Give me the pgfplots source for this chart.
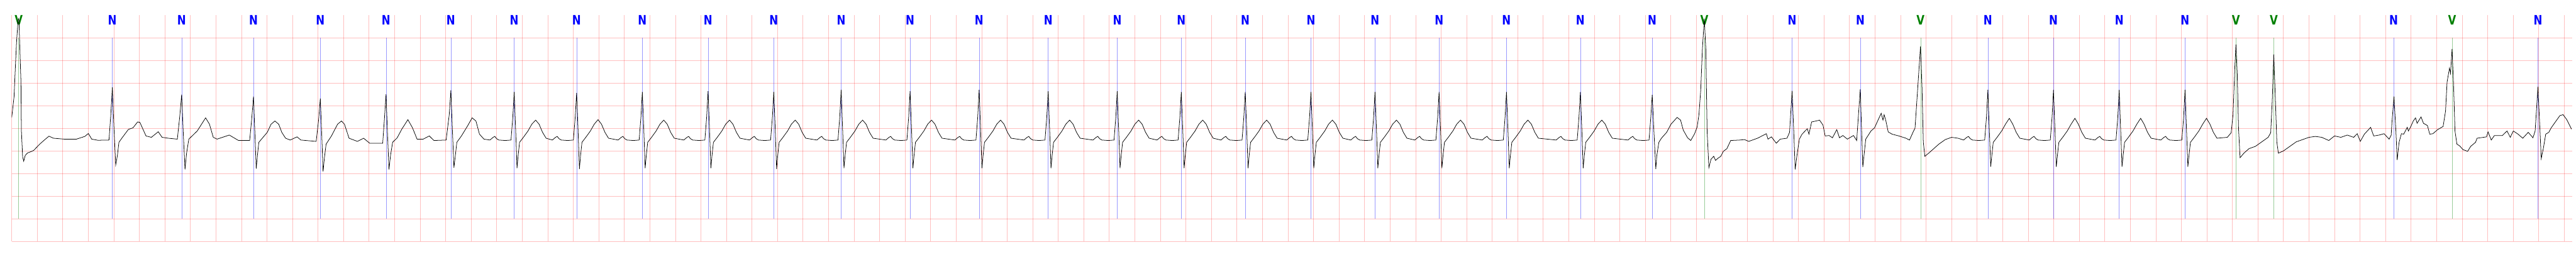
\documentclass[border=0pt]{standalone}
\usepackage{pgfplots}
\pgfplotsset{compat=1.18}
\usepackage{fontspec}
\newfontfamily\labfont{DejaVu Sans}
\definecolor{nlab}{RGB}{0,0,255}
\definecolor{vlab}{RGB}{0,128,0}
\begin{document}
\begin{tikzpicture}
\path[use as bounding box] (0,0) rectangle (1880.5pt,187.5pt);
\begin{axis}[
  at={(8.575pt,11.075pt)}, anchor=south west,
  scale only axis, width=1869.175pt, height=165.425pt,
  xmin=0, xmax=20.063, ymin=-2.5, ymax=2.5,
  xtick distance=0.2, ytick={-2.5,-2,...,2},
  grid=major, major grid style={red, opacity=0.25, line width=0.38pt},
  tick style={draw=none}, xticklabel=\empty, yticklabel=\empty,
  axis line style={draw=none},
]
% beat annotations
\pgfplotsinvokeforeach{0.7884,1.3313,1.8942,2.4178,2.9327,3.4408,3.937,4.426,4.941,5.456,5.971,6.499,7.039,7.580,8.121,8.662,9.164,9.665,10.180,10.682,11.184,11.712,12.291,12.854,13.950,14.484,15.484,15.998,16.513,17.029,18.663,19.794}{
  \addplot[nlab, opacity=0.4, line width=0.18pt] coordinates {(#1,-2) (#1,2)};
  \node[anchor=north, inner sep=0pt, text=nlab, xscale=0.8, font=\labfont\fontsize{9.5}{10}\selectfont\bfseries] at (axis cs:#1,2.5) {N};
}
\pgfplotsinvokeforeach{0.0542,13.262,14.956,17.428,17.724,19.121}{
  \addplot[vlab, opacity=0.4, line width=0.18pt] coordinates {(#1,-2) (#1,2)};
  \node[anchor=north, inner sep=0pt, text=vlab, xscale=0.8, font=\labfont\fontsize{9.5}{10}\selectfont\bfseries] at (axis cs:#1,2.5) {V};
}
% ECG trace (mV vs s)
\addplot[black, line width=0.35pt] coordinates {
(0,0.24)(0.0182,0.70)(0.0277,1.31)(0.0373,1.89)(0.0494,2.38)(0.0529,2.42)(0.0566,2.38)(0.0636,1.75)(0.0721,1.03)(0.0757,-0.06)(0.0853,-0.63)(0.0937,-0.727)(0.1057,-0.60)(0.1237,-0.545)(0.1476,-0.52)(0.1715,-0.49)(0.1954,-0.42)(0.2195,-0.35)(0.2555,-0.26)(0.2914,-0.175)(0.3271,-0.22)(0.4111,-0.24)(0.5069,-0.24)(0.5729,-0.18)(0.6003,-0.115)(0.6266,-0.24)(0.6746,-0.265)(0.7621,-0.26)(0.7760,0.3)(0.7884,0.906)(0.8010,0.0)(0.8147,-0.81)(0.8279,-0.6)(0.8399,-0.31)(0.8662,-0.205)(0.9142,-0.025)(0.9502,0.01)(0.9862,0.14)(1.0042,0.13)(1.028,-0.02)(1.052,-0.17)(1.094,-0.2)(1.148,-0.077)(1.178,-0.2)(1.2256,-0.22)(1.2975,-0.24)(1.3160,0.25)(1.3313,0.743)(1.3440,-0.1)(1.3576,-0.908)(1.3700,-0.55)(1.3874,-0.24)(1.4534,-0.06)(1.5191,0.23)(1.5492,0.09)(1.5790,-0.2)(1.609,-0.24)(1.7049,-0.15)(1.7767,-0.27)
(1.8642,-0.27)(1.8800,0.2)(1.8942,0.70)(1.9050,-0.1)(1.9157,-0.89)(1.9250,-0.6)(1.9361,-0.31)(1.966,-0.21)(2.0021,-0.09)(2.032,0.09)(2.062,0.16)(2.0917,0.09)(2.1159,-0.09)(2.1457,-0.22)(2.1817,-0.26)(2.2356,-0.19)(2.2656,-0.26)(2.3853,-0.29)(2.4050,0.2)(2.4178,0.66)(2.4290,-0.15)(2.4393,-0.955)(2.4500,-0.65)(2.4632,-0.35)(2.5050,-0.17)(2.5531,0.09)(2.5831,0.16)(2.6070,0.09)(2.6430,-0.22)(2.7087,-0.29)(2.7568,-0.22)(2.8046,-0.33)(2.9066,-0.33)(2.9200,0.2)(2.9327,0.75)(2.9440,-0.1)(2.9556,-0.908)(2.9680,-0.6)(2.9843,-0.31)(3.0203,-0.21)(3.0562,-0.02)(3.104,0.19)(3.1400,0.01)(3.1759,-0.24)(3.2239,-0.24)(3.2717,-0.17)(3.3077,-0.27)(3.4035,-0.26)(3.4280,0.3)(3.4408,0.84)(3.4530,-0.05)(3.4647,-0.87)(3.4760,-0.6)(3.4875,-0.31)(3.5235,-0.17)(3.5712,0.05)(3.6074,0.23)(3.6372,0.16)(3.6648,-0.13)(3.70,-0.24)
(3.747,-0.26)(3.772,-0.20)(3.785,-0.18)(3.799,-0.23)(3.817,-0.26)(3.867,-0.27)(3.912,-0.26)(3.926,0.25)(3.937,0.80)(3.948,0.0)(3.959,-0.88)(3.968,-0.6)(3.979,-0.31)(4.009,-0.2)(4.045,-0.06)(4.075,0.09)(4.105,0.18)(4.132,0.09)(4.159,-0.09)(4.187,-0.22)
(4.236,-0.26)(4.261,-0.20)(4.274,-0.18)(4.288,-0.23)(4.306,-0.26)(4.356,-0.27)(4.401,-0.26)(4.415,0.25)(4.426,0.78)(4.437,0.0)(4.448,-0.90)(4.457,-0.6)(4.468,-0.31)(4.498,-0.2)(4.534,-0.06)(4.564,0.09)(4.594,0.19)(4.621,0.09)(4.648,-0.09)(4.676,-0.22)
(4.751,-0.26)(4.776,-0.20)(4.789,-0.18)(4.803,-0.23)(4.821,-0.26)(4.871,-0.27)(4.916,-0.26)(4.930,0.25)(4.941,0.80)(4.952,0.0)(4.963,-0.88)(4.972,-0.6)(4.983,-0.31)(5.013,-0.2)(5.049,-0.06)(5.079,0.09)(5.109,0.18)(5.136,0.09)(5.163,-0.09)(5.191,-0.22)
(5.266,-0.26)(5.291,-0.20)(5.304,-0.18)(5.318,-0.23)(5.336,-0.26)(5.386,-0.27)(5.431,-0.26)(5.445,0.25)(5.456,0.82)(5.467,0.0)(5.478,-0.88)(5.487,-0.6)(5.498,-0.31)(5.528,-0.2)(5.564,-0.06)(5.594,0.09)(5.624,0.18)(5.651,0.09)(5.678,-0.09)(5.706,-0.22)
(5.781,-0.26)(5.806,-0.20)(5.819,-0.18)(5.833,-0.23)(5.851,-0.26)(5.901,-0.27)(5.946,-0.26)(5.960,0.25)(5.971,0.80)(5.982,0.0)(5.993,-0.90)(6.002,-0.6)(6.013,-0.31)(6.043,-0.2)(6.079,-0.06)(6.109,0.09)(6.139,0.18)(6.166,0.09)(6.193,-0.09)(6.221,-0.22)
(6.309,-0.26)(6.334,-0.20)(6.347,-0.18)(6.361,-0.23)(6.379,-0.26)(6.429,-0.27)(6.474,-0.26)(6.488,0.25)(6.499,0.85)(6.510,0.0)(6.521,-0.88)(6.530,-0.6)(6.541,-0.31)(6.571,-0.2)(6.607,-0.06)(6.637,0.09)(6.667,0.18)(6.694,0.09)(6.721,-0.09)(6.749,-0.22)
(6.849,-0.26)(6.874,-0.20)(6.887,-0.18)(6.901,-0.23)(6.919,-0.26)(6.969,-0.27)(7.014,-0.26)(7.028,0.25)(7.039,0.82)(7.050,0.0)(7.061,-0.88)(7.070,-0.6)(7.081,-0.31)(7.111,-0.2)(7.147,-0.06)(7.177,0.09)(7.207,0.18)(7.234,0.09)(7.261,-0.09)(7.289,-0.22)
(7.390,-0.26)(7.415,-0.20)(7.428,-0.18)(7.442,-0.23)(7.460,-0.26)(7.510,-0.27)(7.555,-0.26)(7.569,0.25)(7.580,0.85)(7.591,0.0)(7.602,-0.88)(7.611,-0.6)(7.622,-0.31)(7.652,-0.2)(7.688,-0.06)(7.718,0.09)(7.748,0.18)(7.775,0.09)(7.802,-0.09)(7.830,-0.22)
(7.931,-0.26)(7.956,-0.20)(7.969,-0.18)(7.983,-0.23)(8.001,-0.26)(8.051,-0.27)(8.096,-0.26)(8.110,0.25)(8.121,0.82)(8.132,0.0)(8.143,-0.88)(8.152,-0.6)(8.163,-0.31)(8.193,-0.2)(8.229,-0.06)(8.259,0.09)(8.289,0.18)(8.316,0.09)(8.343,-0.09)(8.371,-0.22)
(8.472,-0.26)(8.497,-0.20)(8.510,-0.18)(8.524,-0.23)(8.542,-0.26)(8.592,-0.27)(8.637,-0.26)(8.651,0.25)(8.662,0.82)(8.673,0.0)(8.684,-0.88)(8.693,-0.6)(8.704,-0.31)(8.734,-0.2)(8.770,-0.06)(8.800,0.09)(8.830,0.18)(8.857,0.09)(8.884,-0.09)(8.912,-0.22)
(8.974,-0.26)(8.999,-0.20)(9.012,-0.18)(9.026,-0.23)(9.044,-0.26)(9.094,-0.27)(9.139,-0.26)(9.153,0.25)(9.164,0.80)(9.175,0.0)(9.186,-0.88)(9.195,-0.6)(9.206,-0.31)(9.236,-0.2)(9.272,-0.06)(9.302,0.09)(9.332,0.18)(9.359,0.09)(9.386,-0.09)(9.414,-0.22)
(9.475,-0.26)(9.500,-0.20)(9.513,-0.18)(9.527,-0.23)(9.545,-0.26)(9.595,-0.27)(9.640,-0.26)(9.654,0.25)(9.665,0.80)(9.676,0.0)(9.687,-0.88)(9.696,-0.6)(9.707,-0.31)(9.737,-0.2)(9.773,-0.06)(9.803,0.09)(9.833,0.18)(9.860,0.09)(9.887,-0.09)(9.915,-0.22)
(9.990,-0.26)(10.015,-0.20)(10.028,-0.18)(10.042,-0.23)(10.060,-0.26)(10.110,-0.27)(10.155,-0.26)(10.169,0.25)(10.180,0.80)(10.191,0.0)(10.202,-0.88)(10.211,-0.6)(10.222,-0.31)(10.252,-0.2)(10.288,-0.06)(10.318,0.09)(10.348,0.18)(10.375,0.09)(10.402,-0.09)(10.430,-0.22)
(10.492,-0.26)(10.517,-0.20)(10.530,-0.18)(10.544,-0.23)(10.562,-0.26)(10.612,-0.27)(10.657,-0.26)(10.671,0.25)(10.682,0.80)(10.693,0.0)(10.704,-0.88)(10.713,-0.6)(10.724,-0.31)(10.754,-0.2)(10.790,-0.06)(10.820,0.09)(10.850,0.18)(10.877,0.09)(10.904,-0.09)(10.932,-0.22)
(10.994,-0.26)(11.019,-0.20)(11.032,-0.18)(11.046,-0.23)(11.064,-0.26)(11.114,-0.27)(11.159,-0.26)(11.173,0.25)(11.184,0.80)(11.195,0.0)(11.206,-0.88)(11.215,-0.6)(11.226,-0.31)(11.256,-0.2)(11.292,-0.06)(11.322,0.09)(11.352,0.18)(11.379,0.09)(11.406,-0.09)(11.434,-0.22)
(11.522,-0.26)(11.547,-0.20)(11.560,-0.18)(11.574,-0.23)(11.592,-0.26)(11.642,-0.27)(11.687,-0.26)(11.701,0.25)(11.712,0.80)(11.723,0.0)(11.734,-0.88)(11.743,-0.6)(11.754,-0.31)(11.784,-0.2)(11.820,-0.06)(11.850,0.09)(11.880,0.18)(11.907,0.09)(11.934,-0.09)(11.962,-0.22)
(12.101,-0.26)(12.126,-0.20)(12.139,-0.18)(12.153,-0.23)(12.171,-0.26)(12.221,-0.27)(12.266,-0.26)(12.280,0.25)(12.291,0.80)(12.302,0.0)(12.313,-0.88)(12.322,-0.6)(12.333,-0.31)(12.363,-0.2)(12.399,-0.06)(12.429,0.09)(12.459,0.18)(12.486,0.09)(12.513,-0.09)(12.541,-0.22)
(12.664,-0.26)(12.689,-0.20)(12.702,-0.18)(12.716,-0.23)(12.734,-0.26)(12.784,-0.27)(12.829,-0.26)(12.843,0.25)(12.854,0.74)(12.866,0.0)(12.882,-0.90)(12.890,-0.6)(12.906,-0.31)(12.926,-0.22)(12.967,-0.09)(13.001,0.09)(13.049,0.24)(13.076,0.18)(13.097,-0.04)(13.131,-0.21)(13.156,-0.27)(13.186,-0.12)(13.206,0.03)(13.220,0.30)(13.234,0.845)(13.247,1.75)(13.262,2.42)(13.274,1.75)(13.284,-0.06)(13.298,-0.87)(13.315,-0.68)(13.336,-0.62)(13.350,-0.71)(13.370,-0.66)(13.391,-0.62)(13.411,-0.51)(13.439,-0.45)(13.459,-0.33)(13.469,-0.27)(13.541,-0.26)(13.577,-0.25)(13.610,-0.29)(13.679,-0.22)(13.748,-0.12)(13.761,-0.24)(13.788,-0.19)(13.826,-0.33)(13.857,-0.24)(13.910,-0.22)(13.930,-0.09)(13.950,0.826)(13.962,0.0)(13.974,-0.908)(13.987,-0.62)(14.007,-0.24)(14.028,-0.13)(14.069,-0.01)(14.082,-0.13)(14.103,0.14)(14.137,0.16)(14.165,0.18)(14.192,0.07)(14.209,-0.17)(14.240,-0.16)(14.266,-0.21)(14.300,-0.03)(14.321,-0.21)(14.348,-0.16)(14.383,-0.24)(14.431,-0.16)(14.456,-0.27)(14.484,0.86)(14.494,0.0)(14.504,-0.855)(14.527,-0.24)(14.568,-0.06)(14.596,0.01)(14.620,0.16)(14.648,0.33)(14.662,0.18)(14.671,0.30)(14.685,0.16)(14.703,-0.08)(14.733,-0.13)(14.787,-0.17)(14.842,-0.22)(14.870,-0.26)(14.897,-0.09)(14.913,0.0)(14.935,0.92)(14.956,1.81)
(14.968,0.9)(14.978,-0.3)(14.99,-0.62)(15.02,-0.55)(15.06,-0.45)(15.10,-0.35)(15.15,-0.25)(15.20,-0.2)(15.25,-0.22)
(15.294,-0.26)(15.319,-0.20)(15.332,-0.18)(15.346,-0.23)(15.364,-0.26)(15.414,-0.27)(15.459,-0.26)(15.473,0.25)(15.484,0.85)(15.495,0.0)(15.506,-0.85)(15.515,-0.6)(15.526,-0.31)(15.556,-0.2)(15.592,-0.06)(15.622,0.09)(15.652,0.22)(15.679,0.09)(15.706,-0.09)(15.734,-0.22)
(15.808,-0.26)(15.833,-0.20)(15.846,-0.18)(15.860,-0.23)(15.878,-0.26)(15.928,-0.27)(15.973,-0.26)(15.987,0.25)(15.998,0.85)(16.009,0.0)(16.020,-0.85)(16.029,-0.6)(16.040,-0.31)(16.070,-0.2)(16.106,-0.06)(16.136,0.09)(16.166,0.22)(16.193,0.09)(16.220,-0.09)(16.248,-0.22)
(16.323,-0.26)(16.348,-0.20)(16.361,-0.18)(16.375,-0.23)(16.393,-0.26)(16.443,-0.27)(16.488,-0.26)(16.502,0.25)(16.513,0.85)(16.524,0.0)(16.535,-0.85)(16.544,-0.6)(16.555,-0.31)(16.585,-0.2)(16.621,-0.06)(16.651,0.09)(16.681,0.22)(16.708,0.09)(16.735,-0.09)(16.763,-0.22)
(16.839,-0.26)(16.864,-0.20)(16.877,-0.18)(16.891,-0.23)(16.909,-0.26)(16.959,-0.27)(17.004,-0.26)(17.018,0.25)(17.029,0.85)(17.040,0.0)(17.051,-0.85)(17.060,-0.6)(17.071,-0.31)(17.101,-0.2)(17.137,-0.06)(17.167,0.09)(17.197,0.22)(17.224,0.09)(17.251,-0.09)(17.279,-0.22)
(17.36,-0.2)(17.39,-0.1)(17.405,0.3)(17.418,1.3)(17.428,1.85)(17.438,1.2)(17.448,0.0)(17.46,-0.65)(17.49,-0.55)(17.53,-0.45)(17.58,-0.4)(17.63,-0.3)(17.68,-0.2)
(17.70,-0.1)(17.712,0.6)(17.724,1.63)(17.736,0.7)(17.748,-0.3)(17.76,-0.55)(17.80,-0.5)(17.85,-0.4)(17.90,-0.3)(17.95,-0.25)(18.0,-0.2)(18.05,-0.18)(18.10,-0.2)
(18.155,-0.27)(18.20,-0.17)(18.25,-0.2)(18.30,-0.15)(18.35,-0.2)(18.378,-0.12)(18.402,-0.29)(18.434,-0.13)(18.483,0.02)(18.507,-0.17)(18.55,-0.15)(18.588,-0.12)(18.628,-0.24)(18.644,-0.15)(18.650,0.13)(18.666,0.70)(18.681,-0.06)(18.691,-0.70)(18.706,-0.31)(18.724,-0.12)(18.742,-0.13)(18.770,0.02)(18.779,-0.06)(18.798,0.04)(18.817,0.16)(18.835,0.23)(18.847,0.11)(18.878,0.25)(18.897,0.11)(18.928,0.06)(18.946,-0.13)(18.971,-0.12)(19.008,-0.03)(19.051,0.04)(19.070,0.38)(19.082,1.02)(19.101,1.33)(19.109,1.21)(19.121,1.75)(19.132,1.02)(19.144,-0.06)(19.159,-0.35)(19.181,-0.39)(19.206,-0.47)(19.243,-0.51)(19.267,-0.4)(19.305,-0.31)(19.317,-0.22)(19.391,-0.19)(19.403,-0.08)(19.428,-0.26)(19.453,-0.16)(19.515,-0.16)(19.552,-0.06)(19.577,-0.2)(19.601,-0.06)(19.638,-0.13)(19.675,-0.22)(19.718,-0.09)(19.755,-0.21)(19.772,-0.06)(19.794,0.917)(19.807,0.13)(19.820,-0.67)(19.836,-0.45)(19.855,-0.13)(19.879,-0.09)(19.898,0.01)(19.923,0.11)(19.966,0.28)(19.991,0.30)(20.020,0.19)(20.057,-0.02)
};
\end{axis}
\end{tikzpicture}
\end{document}
